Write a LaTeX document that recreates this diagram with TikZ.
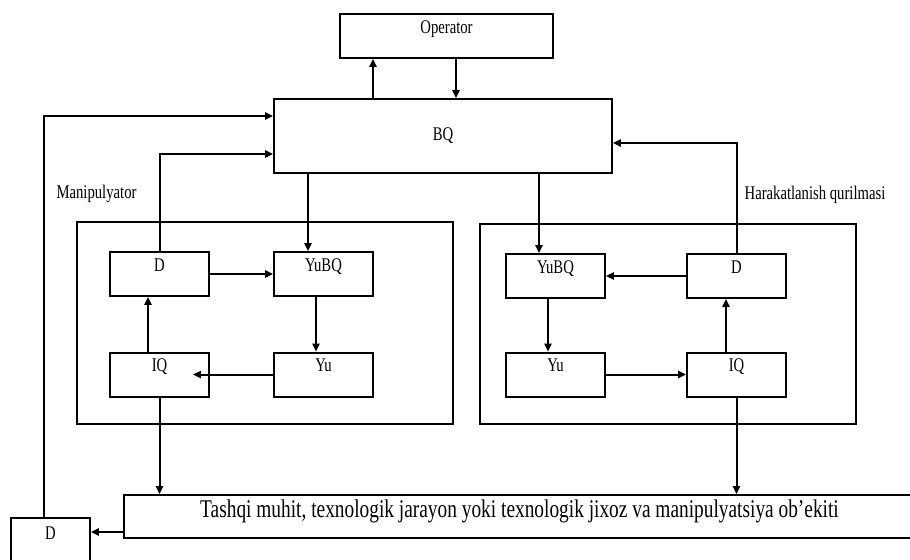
\documentclass[tikz,border=0pt]{standalone}
\usepackage{fontspec}
\usepackage{graphicx}
\setmainfont{Liberation Serif}
\usetikzlibrary{arrows.meta}
\newcommand{\nar}[1]{\scalebox{0.76}[1]{#1}}
\begin{document}
\begin{tikzpicture}[x=0.02cm, y=-0.02cm, line width=0.04cm,
    font=\fontsize{11}{13}\selectfont,
    arr/.style={-{Triangle[length=4.5pt,width=4pt]}},
    box/.style={draw, inner sep=0pt},
    topbox/.style={box, minimum width=1.98cm, text height=0.38cm, text depth=0.5cm}]
    \useasboundingbox (0,0) rectangle (910,559);
    \clip (0,0) rectangle (910,559);
    % frames
    \node[box, minimum width=7.52cm, minimum height=4.04cm] (manL) at (265,323) {};
    \node[box, minimum width=7.52cm, minimum height=4.0cm] (harR) at (668,324) {};
    \node (manText) at (96.5,194) {\nar{Manipulyator}};
    \node (harText) at (815,195) {\nar{Harakatlanish qurilmasi}};
    % blocks
    \node[topbox, minimum width=4.26cm] (op) at (446.5,36) {\nar{Operator}};
    \node[box, minimum width=6.76cm, minimum height=1.48cm] (bq) at (443,136) {\nar{BQ}};
    \node[topbox] (dL) at (159.5,274) {\nar{D}};
    \node[topbox] (yubqL) at (323.5,274) {\nar{YuBQ}};
    \node[topbox] (iqL) at (159.5,374.5) {\nar{IQ}};
    \node[topbox] (yuL) at (323.5,374.5) {\nar{Yu}};
    \node[topbox] (yubqR) at (555.5,276) {\nar{YuBQ}};
    \node[topbox] (dR) at (736.5,276) {\nar{D}};
    \node[topbox] (yuR) at (555.5,374.5) {\nar{Yu}};
    \node[topbox] (iqR) at (736.5,374.5) {\nar{IQ}};
    \node[box, minimum width=15.82cm, text height=0.44cm, text depth=0.42cm,
        font=\fontsize{14.5}{16}\selectfont] (tashqi) at (519.5,516.5)
        {\nar{Tashqi muhit, texnologik jarayon yoki texnologik jixoz va manipulyatsiya ob’ekiti}};
    \node[topbox, minimum width=1.58cm, text height=0.42cm, text depth=0.62cm] (dOut) at (50.5,544) {\nar{D}};
    % operator and BQ
    \draw[arr] (bq.north -| 373,0) -- (op.south -| 373,0);
    \draw[arr] (op.south -| 456,0) -- (bq.north -| 456,0);
    \draw[arr] (bq.south -| 308,0) -- (yubqL.north -| 308,0);
    \draw[arr] (bq.south -| 539,0) -- (yubqR.north -| 539,0);
    % feedback lines
    \draw[arr] (dOut.north -| 44,0) |- (bq.west |- 0,116);
    \draw[arr] (dL.north) |- (bq.west |- 0,154);
    \draw[arr] (dR.north) |- (bq.east |- 0,143);
    % manipulator loop
    \draw[arr] (dL.east) -- (yubqL.west);
    \draw[arr] (yubqL.south -| 316,0) -- (yuL.north -| 316,0);
    \draw[arr] (yuL.west) -- (iqL.center -| 193,0);
    \draw[arr] (iqL.north -| 148,0) -- (dL.south -| 148,0);
    % moving device loop
    \draw[arr] (dR.west) -- (yubqR.east);
    \draw[arr] (yubqR.south -| 548,0) -- (yuR.north -| 548,0);
    \draw[arr] (yuR.east) -- (iqR.west);
    \draw[arr] (iqR.north -| 726,0) -- (dR.south -| 726,0);
    % to environment
    \draw[arr] (iqL.south) -- (iqL.south |- tashqi.north);
    \draw[arr] (iqR.south) -- (iqR.south |- tashqi.north);
    \draw[arr] (tashqi.west |- 0,532) -- (dOut.east |- 0,532);
\end{tikzpicture}
\end{document}
